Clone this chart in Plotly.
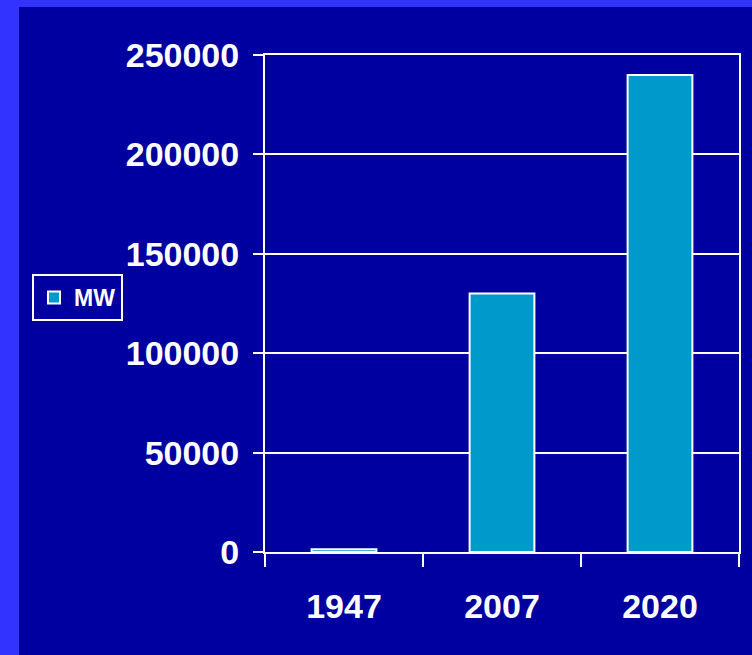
import plotly.graph_objects as go

years = ["1947", "2007", "2020"]
mw = [1362, 130000, 240000]
series_name = "MW"

DARK = "#0000A0"
LIGHT = "#3333FF"
BAR = "#0099CC"
FONT = "Liberation Sans"

W, H = 752, 655
L, R, T, B = 265, 13, 55, 103
pw, ph = W - L - R, H - T - B

def px_x(x):
    return (x - L) / pw

def px_y(y):
    return (H - B - y) / ph

fig = go.Figure()
fig.add_trace(go.Bar(
    x=years, y=mw, name=series_name,
    marker=dict(color=BAR, line=dict(color="white", width=2)),
    showlegend=True,
))

fig.update_layout(
    width=W, height=H,
    margin=dict(l=L, r=R, t=T, b=B),
    paper_bgcolor=DARK, plot_bgcolor=DARK,
    bargap=0.59,
    font=dict(family=FONT, color="white"),
    showlegend=True,
    legend=dict(
        x=px_x(32), y=px_y(274), xanchor="left", yanchor="top",
        bgcolor=DARK, bordercolor="white", borderwidth=2,
        font=dict(family=FONT, size=23, color="white", weight="bold"),
        itemwidth=30,
    ),
    shapes=[
        dict(type="rect", xref="paper", yref="paper",
             x0=px_x(-5), x1=px_x(19), y0=px_y(H + 5), y1=px_y(-5),
             fillcolor=LIGHT, line=dict(width=0), layer="below"),
        dict(type="rect", xref="paper", yref="paper",
             x0=px_x(-5), x1=px_x(W + 5), y0=px_y(7), y1=px_y(-5),
             fillcolor=LIGHT, line=dict(width=0), layer="below"),
    ],
)

fig.update_xaxes(
    type="category", range=[-0.5, 2.5],
    showline=True, linecolor="white", linewidth=2, mirror=True,
    ticks="outside", tickson="boundaries", ticklen=13, tickwidth=2, tickcolor="white",
    showgrid=False,
    tickfont=dict(family=FONT, size=34, color="white", weight="bold"),
    ticklabelstandoff=23,
)
fig.update_yaxes(
    range=[0, 250000], tickvals=[0, 50000, 100000, 150000, 200000, 250000],
    ticktext=["0", "50000", "100000", "150000", "200000", "250000"],
    showline=True, linecolor="white", linewidth=2, mirror=True,
    ticks="outside", ticklen=10, tickwidth=2, tickcolor="white",
    showgrid=True, gridcolor="white", gridwidth=2,
    zeroline=False,
    tickfont=dict(family=FONT, size=34, color="white", weight="bold"),
    ticklabelstandoff=7,
)

fig.write_html(
    "out.html",
    config={"displayModeBar": False},
    post_script="document.body.style.margin='0';document.body.style.padding='0';",
)
